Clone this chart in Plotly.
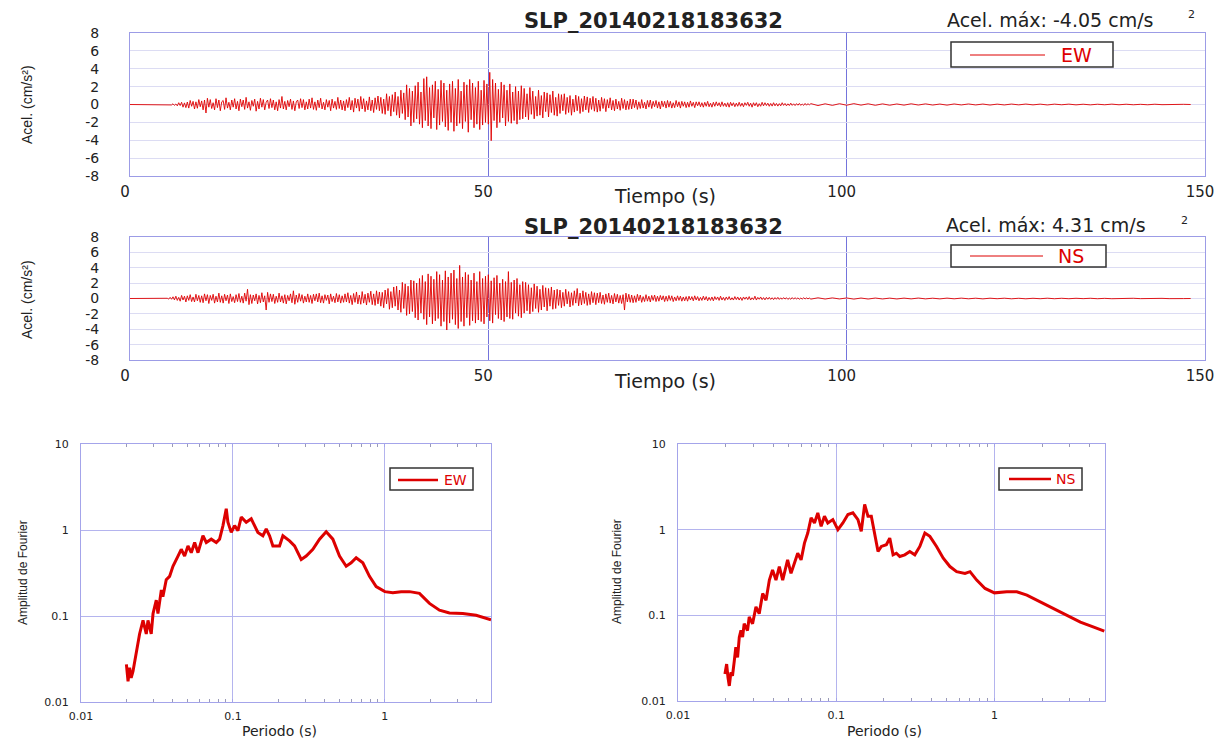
import numpy as np
import plotly.graph_objects as go

# ---------------- data ----------------
# Accelerograms (cm/s^2): values every 0.2 s from 5.0 s to 94.8 s, then every 1 s from 95 s to 148 s
ew_main = [
    0.0, 0.01, -0.02, 0.03, -0.05, 0.08, -0.1, 0.06, -0.15, 0.2, -0.12, 0.25, -0.3, 0.18, -0.35, 0.28, -0.4, 0.45, -0.2, 0.35, -0.5, 0.3, -0.42, 0.55, -0.25,
    0.4, -0.6, 0.5, -0.95, 0.7, -0.3, 0.55, -0.45, 0.2, -0.6, 0.65, -0.35, 0.5, -0.7, 0.3, 0.45, -0.55, 0.75, -0.4, 0.25, -0.6, 0.5, -0.3, 0.65, -0.5,
    0.35, -0.7, 0.6, -0.25, 0.5, -0.55, 0.8, -0.4, 0.3, -0.65, 0.45, -0.2, 0.6, -0.75, 0.35, -0.5, 0.7, -0.3, 0.55, -0.6, 0.25, 0.5, -0.45, 0.65, -0.35,
    0.5, -0.6, 0.3, -0.7, 0.55, -0.4, 0.9, -0.5, 0.35, -0.6, 0.45, -0.25, 0.6, -0.55, 0.4, -0.7, 0.3, 0.5, -0.45, 0.65, -0.35, 0.55, -0.6, 0.3, -0.5,
    0.6, -0.4, 0.75, -0.55, 0.3, -0.65, 0.5, -0.35, 0.7, -0.5, 0.25, -0.6, 0.55, -0.3, 0.45, -0.7, 0.6, -0.4, 0.35, -0.55, 0.8, -0.45, 0.5, -0.6, 0.4,
    -0.7, 0.55, -0.35, 0.8, -0.6, 0.45, -0.85, 0.7, -0.4, 0.6, -0.75, 0.9, -0.5, 0.65, -0.8, 0.4, -0.6, 0.85, -0.7, 0.5, -0.9, 0.75, -0.55, 0.95, -0.7,
    0.8, -1.0, 0.6, -1.1, 1.2, -0.7, 0.9, -1.3, 1.1, -0.8, 1.4, -1.2, 0.9, -1.5, 1.6, -1.0, 1.3, -1.7, 2.2, -1.4, 1.8, -2.4, 1.5, -2.0, 2.1,
    -1.6, 2.5, -2.2, 1.4, -2.6, 2.9, -1.8, 3.1, -2.4, 1.9, -2.7, 2.2, -1.5, 2.6, -2.8, 1.7, -2.3, 2.7, -1.9, 2.4, -2.5, 1.6, -2.9, 2.3, -2.0,
    2.6, -3.0, 1.8, -2.4, 2.8, -2.1, 1.5, -2.7, 2.5, -1.9, 2.2, -3.1, 2.8, -1.7, 2.4, -2.6, 1.9, -2.2, 2.6, -2.8, 1.6, -2.3, 2.7, -2.0, 2.3,
    -2.2, 3.6, -4.05, 2.8, -1.8, 2.4, -2.6, 1.7, -2.0, 2.5, -1.5, 2.2, -2.4, 1.6, -1.9, 2.3, -2.1, 1.4, -1.8, 2.0, -2.2, 1.5, -1.7, 2.1, -1.6,
    1.8, -1.4, 1.2, -1.7, 1.9, -1.1, 1.5, -1.6, 0.9, -1.3, 1.6, -1.2, 1.0, -1.5, 1.4, -0.8, 1.3, -1.4, 1.1, -0.9, 1.5, -1.2, 0.8, -1.3, 1.2,
    -1.0, 1.1, -0.7, 1.2, -1.1, 0.8, -0.9, 1.0, -1.2, 0.6, -0.85, 1.05, -0.7, 0.9, -1.0, 0.65, -0.8, 0.95, -0.6, 0.85, -0.9, 0.7, -0.55, 0.9, -0.75,
    0.7, -0.85, 0.5, -0.75, 0.8, -0.45, 0.65, -0.8, 0.55, -0.4, 0.75, -0.6, 0.45, -0.7, 0.6, -0.5, 0.35, -0.65, 0.7, -0.45, 0.55, -0.6, 0.4, -0.55, 0.6,
    -0.5, 0.6, -0.35, 0.5, -0.55, 0.3, -0.45, 0.55, -0.4, 0.25, -0.5, 0.45, -0.3, 0.5, -0.45, 0.35, -0.25, 0.45, -0.4, 0.3, -0.5, 0.4, -0.25, 0.35, -0.4,
    0.45, -0.3, 0.35, -0.4, 0.2, -0.35, 0.45, -0.25, 0.3, -0.4, 0.35, -0.2, 0.3, -0.35, 0.25, -0.3, 0.4, -0.2, 0.25, -0.35, 0.3, -0.15, 0.3, -0.25, 0.2,
    -0.3, 0.25, -0.2, 0.35, -0.25, 0.15, -0.3, 0.25, -0.2, 0.3, -0.15, 0.2, -0.25, 0.3, -0.2, 0.15, -0.25, 0.2, -0.3, 0.25, -0.15, 0.2, -0.25, 0.15, -0.2,
    0.25, -0.2, 0.15, -0.25, 0.2, -0.1, 0.25, -0.2, 0.15, -0.3, 0.2, -0.15, 0.2, -0.25, 0.1, -0.2, 0.25, -0.15, 0.2, -0.12, 0.15, -0.2, 0.12, -0.18, 0.2,
    -0.15, 0.12, -0.18, 0.1, -0.15, 0.2, -0.1, 0.12, -0.15, 0.08, -0.12, 0.15, -0.1, 0.08, -0.12, 0.1, -0.08, 0.12, -0.1, 0.06, -0.1, 0.12, -0.08, 0.1, -0.06,
]
ew_tail = [
    0.1, -0.12, 0.08, -0.1, 0.09, -0.08, 0.1, -0.07, 0.08, -0.09,
    0.07, -0.08, 0.06, -0.07, 0.08, -0.06, 0.07, -0.06, 0.05, -0.07,
    0.06, -0.05, 0.06, -0.05, 0.05, -0.06, 0.04, -0.05, 0.05, -0.04,
    0.05, -0.04, 0.04, -0.05, 0.04, -0.03, 0.04, -0.04, 0.03, -0.04,
    0.03, -0.03, 0.04, -0.03, 0.03, -0.03, 0.02, -0.03, 0.03, -0.02,
    0.02, -0.02, 0.02, 0.0,
]
ns_main = [
    0.0, 0.03, -0.08, 0.15, -0.1, 0.22, -0.18, 0.3, -0.25, 0.15, -0.35, 0.4, -0.2, 0.3, -0.45, 0.35, -0.25, 0.5, -0.4, 0.2, -0.45, 0.55, -0.3, 0.4, -0.5,
    0.35, -0.55, 0.6, -0.3, 0.5, -0.65, 0.4, -0.25, 0.55, -0.6, 0.3, -0.45, 0.7, -0.5, 0.35, -0.6, 0.55, -0.3, 0.45, -0.65, 0.6, -0.4, 0.25, -0.55, 0.5,
    -0.4, 0.65, -0.5, 0.3, -0.6, 0.7, -0.35, 1.2, -0.8, 0.5, -0.65, 0.45, -0.3, 0.6, -0.7, 0.4, -0.55, 0.75, -0.45, 0.35, -1.5, 0.8, -0.5, 0.6, -0.4,
    0.55, -0.65, 0.3, -0.5, 0.7, -0.45, 0.35, -0.6, 0.5, -0.7, 0.4, -0.3, 0.6, -0.55, 1.0, -0.75, 0.45, -0.5, 0.65, -0.35, 0.5, -0.6, 0.3, -0.45, 0.6,
    -0.5, 0.4, -0.65, 0.55, -0.3, 0.6, -0.45, 0.7, -0.55, 0.35, -0.6, 0.5, -0.25, 0.45, -0.7, 0.6, -0.4, 0.3, -0.55, 0.65, -0.45, 0.5, -0.6, 0.35, -0.5,
    0.6, -0.45, 0.75, -0.6, 0.4, -0.8, 0.65, -0.5, 0.85, -0.7, 0.45, -0.75, 0.9, -0.6, 0.55, -0.85, 0.7, -0.5, 0.95, -0.8, 0.6, -0.9, 1.0, -0.7, 0.85,
    -1.0, 0.8, -1.2, 1.1, -0.7, 1.3, -1.4, 0.9, -1.2, 1.5, -1.0, 1.6, -1.5, 1.1, -1.8, 2.1, -1.3, 1.9, -2.2, 1.6, -2.0, 2.4, -1.7, 2.3, -2.5,
    2.0, -2.8, 2.6, -1.9, 3.0, -2.7, 2.2, -3.4, 3.2, -2.4, 2.9, -3.3, 2.5, -2.9, 3.5, -2.6, 3.1, -3.6, 2.4, -3.0, 3.6, -4.1, 2.8, -3.2, 3.3,
    -2.7, 3.7, -3.4, 2.6, -3.9, 4.31, -3.0, 2.8, -3.6, 3.4, -2.5, 3.1, -3.5, 2.4, -2.9, 3.3, -3.2, 2.2, -2.8, 3.5, -3.0, 2.6, -3.3, 2.9, -2.4,
    3.1, -2.9, 2.3, -3.2, 2.7, -2.1, 3.0, -2.6, 2.0, -2.8, 2.5, -3.0, 2.2, -2.4, 3.5, -2.6, 2.1, -2.7, 2.4, -1.9, 2.6, -2.3, 1.8, -2.5, 2.2,
    -1.9, 2.1, -1.6, 1.8, -2.0, 1.4, -1.7, 1.9, -1.3, 1.6, -1.8, 1.2, -1.5, 1.7, -1.1, 1.4, -1.6, 1.3, -1.0, 1.5, -1.4, 1.1, -1.3, 1.2, -0.9,
    1.1, -1.2, 0.8, -1.0, 1.2, -0.7, 0.9, -1.1, 0.75, -0.9, 1.0, -0.6, 1.3, -0.95, 0.7, -0.85, 1.0, -0.65, 0.8, -0.9, 0.6, -0.8, 0.9, -0.55, 0.75,
    -0.8, 0.7, -0.55, 0.8, -0.65, 0.45, -0.75, 0.6, -0.5, 0.7, -0.6, 0.4, -0.7, 0.65, -0.45, 0.55, -0.6, 0.4, -0.65, 0.5, -1.5, 0.7, -0.45, 0.55, -0.5,
    0.45, -0.55, 0.35, -0.5, 0.55, -0.3, 0.45, -0.5, 0.25, -0.4, 0.5, -0.35, 0.3, -0.45, 0.4, -0.25, 0.45, -0.4, 0.3, -0.35, 0.4, -0.2, 0.35, -0.4, 0.3,
    -0.35, 0.4, -0.25, 0.35, -0.4, 0.2, -0.3, 0.35, -0.25, 0.3, -0.35, 0.2, -0.3, 0.25, -0.35, 0.3, -0.2, 0.25, -0.3, 0.35, -0.2, 0.25, -0.3, 0.15, -0.25,
    0.3, -0.2, 0.25, -0.3, 0.15, -0.25, 0.2, -0.3, 0.25, -0.15, 0.2, -0.25, 0.3, -0.2, 0.15, -0.25, 0.2, -0.15, 0.25, -0.2, 0.1, -0.2, 0.25, -0.15, 0.2,
    -0.2, 0.15, -0.25, 0.2, -0.1, 0.2, -0.15, 0.25, -0.2, 0.1, -0.15, 0.3, -0.2, 0.15, -0.1, 0.2, -0.15, 0.12, -0.18, 0.15, -0.1, 0.15, -0.12, 0.1, -0.15,
    0.12, -0.1, 0.15, -0.12, 0.08, -0.1, 0.12, -0.08, 0.1, -0.12, 0.06, -0.1, 0.12, -0.08, 0.1, -0.06, 0.08, -0.1, 0.06, -0.08, 0.1, -0.06, 0.08, -0.05, 0.06,
]
ns_tail = [
    -0.08, 0.09, -0.07, 0.08, -0.06, 0.07, -0.08, 0.06, -0.07, 0.06,
    -0.06, 0.05, -0.06, 0.05, -0.05, 0.06, -0.05, 0.04, -0.05, 0.05,
    -0.04, 0.05, -0.04, 0.04, -0.05, 0.04, -0.03, 0.04, -0.04, 0.03,
    -0.04, 0.03, -0.03, 0.04, -0.03, 0.03, -0.03, 0.03, -0.02, 0.03,
    -0.03, 0.02, -0.03, 0.02, -0.02, 0.03, -0.02, 0.02, -0.02, 0.02,
    -0.02, 0.02, -0.01, 0.0,
]

# Fourier amplitude spectra
ew_period = [0.0199, 0.0204, 0.0209, 0.0214, 0.0220, 0.0231, 0.0243, 0.0256, 0.0269, 0.0276,
             0.0290, 0.0298, 0.0313, 0.0321, 0.0338, 0.0346, 0.0364, 0.0383, 0.0403, 0.0435,
             0.0457, 0.0481, 0.0506, 0.0532, 0.0560, 0.0589, 0.0635, 0.0668, 0.0720, 0.0777,
             0.0817, 0.0860, 0.0904, 0.0927, 0.0975, 0.1026, 0.1079, 0.1135, 0.1224, 0.1320,
             0.1388, 0.1460, 0.1575, 0.1657, 0.1743, 0.1833, 0.2028, 0.2133, 0.2360, 0.2545,
             0.2816, 0.3037, 0.3360, 0.3717, 0.4112, 0.4549, 0.5032, 0.5567, 0.6003, 0.6476,
             0.7164, 0.7925, 0.8770, 1.0, 1.129, 1.281, 1.453, 1.691, 1.968, 2.289,
             2.664, 3.260, 3.990, 5.0]
ew_amp = [0.0274, 0.0174, 0.0250, 0.0191, 0.0228, 0.0359, 0.0618, 0.0889, 0.0618, 0.0889,
          0.0618, 0.1066, 0.1532, 0.1066, 0.2010, 0.1677, 0.2638, 0.2890, 0.3793, 0.4977,
          0.5966, 0.4977, 0.6532, 0.5447, 0.7151, 0.5447, 0.857, 0.7151, 0.783, 0.715,
          0.783, 1.125, 1.770, 1.232, 0.938, 1.125, 0.982, 1.411, 1.232, 1.349,
          1.125, 0.938, 0.857, 1.028, 0.857, 0.653, 0.653, 0.857, 0.748, 0.653,
          0.4545, 0.498, 0.597, 0.783, 0.956, 0.783, 0.498, 0.379, 0.415, 0.476,
          0.415, 0.289, 0.220, 0.192, 0.187, 0.192, 0.192, 0.1835, 0.140, 0.1167,
          0.1085, 0.1066, 0.1018, 0.0905]
ns_period = [0.0198, 0.0203, 0.0207, 0.0211, 0.0216, 0.0221, 0.0227, 0.0232, 0.0238, 0.0244,
             0.0250, 0.0256, 0.0262, 0.0275, 0.0282, 0.0296, 0.0311, 0.0326, 0.0343, 0.0360,
             0.0378, 0.0396, 0.0416, 0.0437, 0.0459, 0.0493, 0.0518, 0.0544, 0.0571, 0.0600,
             0.0630, 0.0661, 0.0694, 0.0729, 0.0765, 0.0803, 0.0843, 0.0885, 0.0952, 0.1025,
             0.1102, 0.1186, 0.1275, 0.1372, 0.1440, 0.1513, 0.1588, 0.1667, 0.1750, 0.1838,
             0.1929, 0.2075, 0.2180, 0.2288, 0.2402, 0.2522, 0.2713, 0.2918, 0.3139, 0.3377,
             0.3634, 0.3908, 0.4307, 0.4749, 0.5234, 0.5770, 0.6516, 0.7010, 0.7727, 0.8726,
             1.0, 1.197, 1.385, 1.604, 1.948, 2.367, 2.876, 3.494, 4.246, 4.95]
ns_amp = [0.0206, 0.0270, 0.0188, 0.0150, 0.0216, 0.0197, 0.0296, 0.0424, 0.0323, 0.0556,
          0.0666, 0.0556, 0.0798, 0.0666, 0.0956, 0.0798, 0.1254, 0.1046, 0.1798, 0.150,
          0.258, 0.338, 0.258, 0.371, 0.258, 0.444, 0.309, 0.405, 0.531, 0.444,
          0.697, 0.914, 1.371, 1.198, 1.570, 1.094, 1.435, 1.198, 1.311, 1.0,
          1.198, 1.501, 1.570, 1.311, 0.956, 1.968, 1.435, 1.435, 0.914, 0.556,
          0.637, 0.666, 0.798, 0.508, 0.531, 0.486, 0.508, 0.556, 0.508, 0.637,
          0.914, 0.835, 0.637, 0.464, 0.371, 0.3235, 0.309, 0.3235, 0.258, 0.206,
          0.183, 0.188, 0.188, 0.172, 0.1435, 0.1198, 0.100, 0.0835, 0.0729, 0.0654]

title_text = "SLP_20140218183632"
ew_max_label = "Acel. máx: -4.05 cm/s"
ns_max_label = "Acel. máx: 4.31 cm/s"
time_ticks = [0, 50, 100, 150]
acc_ticks = [-8, -6, -4, -2, 0, 2, 4, 6, 8]
acc_tick_text = ["-8", "-6", "-4", "-2", "0", "2", "4", "6", "8"]
per_ticks = [0.01, 0.1, 1]
per_tick_text = ["0.01", "0.1", "1"]
per_minor = [0.02, 0.03, 0.04, 0.05, 0.06, 0.07, 0.08, 0.09,
             0.2, 0.3, 0.4, 0.5, 0.6, 0.7, 0.8, 0.9, 2, 3, 4, 5]
amp_ticks = [0.01, 0.1, 1, 10]
amp_tick_text = ["0.01", "0.1", "1", "10"]

# time grids
t_main = np.arange(len(ew_main)) * 0.2 + 5.0
t_tail = np.arange(len(ew_tail)) * 1.0 + 95.0
t_all = np.concatenate([[0.0], t_main, t_tail])
ew_all = [0.0] + ew_main + ew_tail
ns_all = [0.0] + ns_main + ns_tail

# ---------------- figure ----------------
# The page body has an 8 px margin: the figure starts 8 px from the window's top-left,
# so every layout position below (given in window pixels) is shifted by 8 px.
OFF = 8
W, H = 1226 - 2 * OFF, 740 - OFF
RED = "#e00000"
WIDE = "DejaVu Sans"
NARROW = "Liberation Sans, Arial"
TXT = "#222222"


def px(x):
    return (x - OFF) / W


def py(y):
    return 1 - (y - OFF) / H


fig = go.Figure()
fig.add_trace(go.Scatter(x=t_all, y=ew_all, mode="lines", line=dict(color=RED, width=0.9),
                         xaxis="x", yaxis="y", showlegend=False, name="EW"))
fig.add_trace(go.Scatter(x=t_all, y=ns_all, mode="lines", line=dict(color=RED, width=0.9),
                         xaxis="x2", yaxis="y2", showlegend=False, name="NS"))
fig.add_trace(go.Scatter(x=ew_period, y=ew_amp, mode="lines", line=dict(color="#dd0000", width=3),
                         xaxis="x3", yaxis="y3", showlegend=False, name="EW"))
fig.add_trace(go.Scatter(x=ns_period, y=ns_amp, mode="lines", line=dict(color="#dd0000", width=3),
                         xaxis="x4", yaxis="y4", showlegend=False, name="NS"))

time_x = dict(range=[0, 150], tickvals=time_ticks, showgrid=True, gridcolor="#7474dc", gridwidth=1,
              showline=True, linecolor="#9c9ce6", linewidth=1, mirror=True, zeroline=False,
              ticks="", tickfont=dict(family=WIDE, size=15, color=TXT), ticklabelstandoff=2,
              ticklabelshift=-5, automargin=False)
acc_y = dict(range=[-8, 8], tickvals=acc_ticks, ticktext=acc_tick_text, showgrid=True,
             gridcolor="#dcdcf3", gridwidth=1, showline=True, linecolor="#9c9ce6", linewidth=1,
             mirror=True, zeroline=False, ticks="", tickfont=dict(family=WIDE, size=14, color=TXT),
             ticklabelstandoff=27, automargin=False)
log_x = dict(type="log", range=[-2, np.log10(5)], tickvals=per_ticks, ticktext=per_tick_text,
             showgrid=True, gridcolor="#b4b4ee", showline=True, linecolor="#a4a4ea", linewidth=1,
             mirror="ticks", zeroline=False, ticks="inside", ticklen=3, tickcolor="#a4a4ea",
             minor=dict(ticks="inside", ticklen=3, tickcolor="#9a9ab8", showgrid=False,
                        tickvals=per_minor),
             tickfont=dict(family=WIDE, size=11, color=TXT), ticklabelstandoff=4, automargin=False)
log_y = dict(type="log", range=[-2, 1], tickvals=amp_ticks, ticktext=amp_tick_text,
             showgrid=True, gridcolor="#b4b4ee", showline=True, linecolor="#a4a4ea", linewidth=1,
             mirror=True, zeroline=False, ticks="",
             tickfont=dict(family=WIDE, size=11, color=TXT), ticklabelstandoff=9, automargin=False)

fig.update_layout(
    template="none",
    width=W, height=H, margin=dict(l=0, r=0, t=0, b=0, pad=0), autosize=False,
    paper_bgcolor="white", plot_bgcolor="white",
    xaxis=dict(domain=[px(130), px(1205)], anchor="y", **time_x),
    yaxis=dict(domain=[py(176), py(33)], anchor="x", **acc_y),
    xaxis2=dict(domain=[px(130), px(1205)], anchor="y2", **time_x),
    yaxis2=dict(domain=[py(360), py(237)], anchor="x2", **acc_y),
    xaxis3=dict(domain=[px(81), px(491)], anchor="y3", **log_x),
    yaxis3=dict(domain=[py(702), py(444)], anchor="x3", **log_y),
    xaxis4=dict(domain=[px(678), px(1105)], anchor="y4", **log_x),
    yaxis4=dict(domain=[py(701), py(444)], anchor="x4", **log_y),
    showlegend=False,
)


def ann(text, x, y, size, family=WIDE, bold=False, color=TXT, angle=0, xanchor="center"):
    fig.add_annotation(text=text, x=px(x), y=py(y), xref="paper", yref="paper",
                       xanchor=xanchor, yanchor="middle", showarrow=False, textangle=angle,
                       font=dict(family=family, size=size, color=color,
                                 weight="bold" if bold else "normal"))


# titles
ann(title_text, 653, 21, 21, bold=True)
ann(title_text, 653, 227, 21, bold=True)
ann(ew_max_label, 1050, 20, 19)
ann("2", 1191, 15, 11)
ann(ns_max_label, 1046, 225, 19)
ann("2", 1184, 220, 11)
ann("Tiempo (s)", 665, 196, 19)
ann("Tiempo (s)", 665, 381, 19)
ann("Acel. (cm/s²)", 27, 105, 14, family=NARROW, angle=-90)
ann("Acel. (cm/s²)", 27, 300, 14, family=NARROW, angle=-90)
ann("Amplitud de Fourier", 23, 573, 12, family=NARROW, angle=-90)
ann("Amplitud de Fourier", 617, 572, 12, family=NARROW, angle=-90)
ann("Periodo (s)", 279, 731, 14)
ann("Periodo (s)", 884, 731, 14)


# legends (drawn boxes)
def legend_box(x0, y0, x1, y1, lx0, lx1, ly, lw, text, tx, size):
    fig.add_shape(type="rect", xref="paper", yref="paper", x0=px(x0), x1=px(x1), y0=py(y1), y1=py(y0),
                  line=dict(color="#333333", width=1.5), fillcolor="white", layer="above")
    fig.add_shape(type="line", xref="paper", yref="paper", x0=px(lx0), x1=px(lx1), y0=py(ly), y1=py(ly),
                  line=dict(color="#dd0000", width=lw), layer="above")
    ann(text, tx, ly, size, color="#dd0000")


legend_box(951, 42, 1113, 67, 970, 1045, 55, 1, "EW", 1076, 19)
legend_box(951, 245, 1106, 267, 970, 1043, 256, 1, "NS", 1071, 19)
legend_box(390, 468, 473, 490, 398, 438, 480, 2.5, "EW", 455, 14)
legend_box(999, 468, 1082, 490, 1009, 1051, 479, 2.5, "NS", 1065, 14)

fig.write_html("out.html")
